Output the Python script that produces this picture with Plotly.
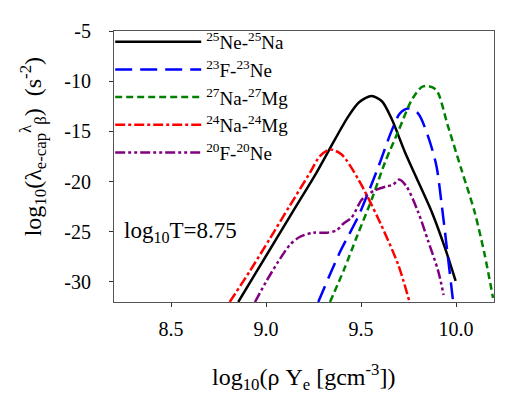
import plotly.graph_objects as go

# Curves, log10(rho Ye) vs log10(rate)
ne25_x = [8.854, 8.951, 9.056, 9.161, 9.266, 9.363, 9.43, 9.49, 9.556, 9.61, 9.66, 9.732, 9.801, 9.872, 9.942, 9.998]
ne25_y = [-32.0, -28.95, -25.67, -22.38, -19.1, -15.8, -13.6, -12.1, -11.48, -12.0, -13.7, -17.1, -20.0, -23.0, -26.6, -29.9]

f23_x = [9.275, 9.39, 9.485, 9.59, 9.662, 9.705, 9.748, 9.80, 9.853, 9.897, 9.923, 9.95, 9.985]
f23_y = [-32.0, -27.0, -23.5, -18.6, -14.9, -13.2, -12.72, -13.2, -15.5, -18.44, -22.05, -26.3, -32.0]

na27_x = [9.337, 9.41, 9.48, 9.556, 9.626, 9.696, 9.766, 9.818, 9.853, 9.897, 9.958, 10.028, 10.098, 10.151, 10.195]
na27_y = [-32.0, -28.8, -25.4, -21.8, -18.1, -15.0, -11.9, -10.6, -10.49, -10.89, -14.5, -18.77, -23.03, -27.3, -31.6]

na24_x = [8.809, 8.914, 9.021, 9.126, 9.232, 9.284, 9.337, 9.398, 9.485, 9.591, 9.696, 9.754]
na24_y = [-32.0, -28.95, -25.67, -22.38, -19.1, -17.46, -16.8, -17.3, -19.75, -23.7, -28.3, -31.9]

f20_x = [8.942, 9.003, 9.065, 9.126, 9.179, 9.249, 9.319, 9.372, 9.407, 9.45, 9.50, 9.52, 9.57, 9.63, 9.67, 9.70, 9.74, 9.80, 9.853, 9.906, 9.935]
f20_y = [-32.0, -29.9, -27.96, -26.3, -25.5, -25.1, -25.1, -24.85, -24.2, -23.6, -21.9, -21.5, -20.9, -20.5, -20.3, -19.8, -20.5, -23.0, -25.9, -28.9, -31.3]

series = [
    ("<sup>25</sup>Ne-<sup>25</sup>Na", ne25_x, ne25_y, "black", "solid"),
    ("<sup>23</sup>F-<sup>23</sup>Ne", f23_x, f23_y, "#0000ff", "17px,8px"),
    ("<sup>27</sup>Na-<sup>27</sup>Mg", na27_x, na27_y, "#008000", "7px,4px"),
    ("<sup>24</sup>Na-<sup>24</sup>Mg", na24_x, na24_y, "#ff0000", "10px,3px,3px,3px"),
    ("<sup>20</sup>F-<sup>20</sup>Ne", f20_x, f20_y, "#800080", "10px,3px,3px,3px,3px,3px"),
]

y_ticks = [-30, -25, -20, -15, -10, -5]
x_ticks = [8.5, 9.0, 9.5, 10.0]

FONT = "Liberation Serif"

fig = go.Figure()
for i, (name, xs, ys, color, dash) in enumerate(series):
    fig.add_trace(go.Scatter(
        x=xs, y=ys, name=name, mode="lines",
        line=dict(color=color, dash=dash, width=2.5, shape="spline", smoothing=0.8),
        legendgroup=str(i),
    ))

fig.add_annotation(
    x=8.55, y=-25, xref="x", yref="y",
    text="log<sub>10</sub>T=8.75", showarrow=False,
    font=dict(family=FONT, size=23, color="black"),
)

# axis titles as annotations so they sit where the reference has them
fig.add_annotation(
    x=-0.213, y=0.571, xref="paper", yref="paper", textangle=-90,
    xanchor="center", yanchor="middle",
    text="log<sub>10</sub>(λ<sub>e-cap</sub><sup>λ</sup><sub>β</sub>)\u00a0\u00a0(s<sup>-2</sup>)",
    showarrow=False, font=dict(family=FONT, size=24, color="black"),
)
fig.add_annotation(
    x=0.5, y=-0.278, xref="paper", yref="paper",
    xanchor="center", yanchor="middle",
    text="log<sub>10</sub>(ρ\u00a0Y<sub>e</sub>\u00a0[gcm<sup>-3</sup>])",
    showarrow=False, font=dict(family=FONT, size=24, color="black"),
)

axis_common = dict(
    showgrid=False, zeroline=False, showline=True, mirror=True,
    linecolor="#555", linewidth=1.2,
    ticks="outside", ticklen=4, tickcolor="#333",
    tickfont=dict(family=FONT, size=20, color="black"),
)

fig.update_xaxes(
    range=[8.2, 10.2], tickvals=x_ticks, ticktext=[f"{v:.1f}" for v in x_ticks],
    ticklabelstandoff=5,
    **axis_common,
)
fig.update_yaxes(
    range=[-32, -5], tickvals=y_ticks, ticktext=[str(v) for v in y_ticks],
    ticklabelstandoff=14,
    **axis_common,
)

fig.update_layout(
    width=506, height=394,
    margin=dict(l=106, r=20, t=21, b=100),
    font=dict(family=FONT, color="black"),
    plot_bgcolor="white", paper_bgcolor="white",
    showlegend=True,
    legend=dict(
        x=-0.01, y=1.03, xanchor="left", yanchor="top",
        bgcolor="rgba(0,0,0,0)", borderwidth=0,
        font=dict(family=FONT, size=19, color="black"),
        itemwidth=86, tracegroupgap=0,
    ),
)

fig.write_html("out.html")
